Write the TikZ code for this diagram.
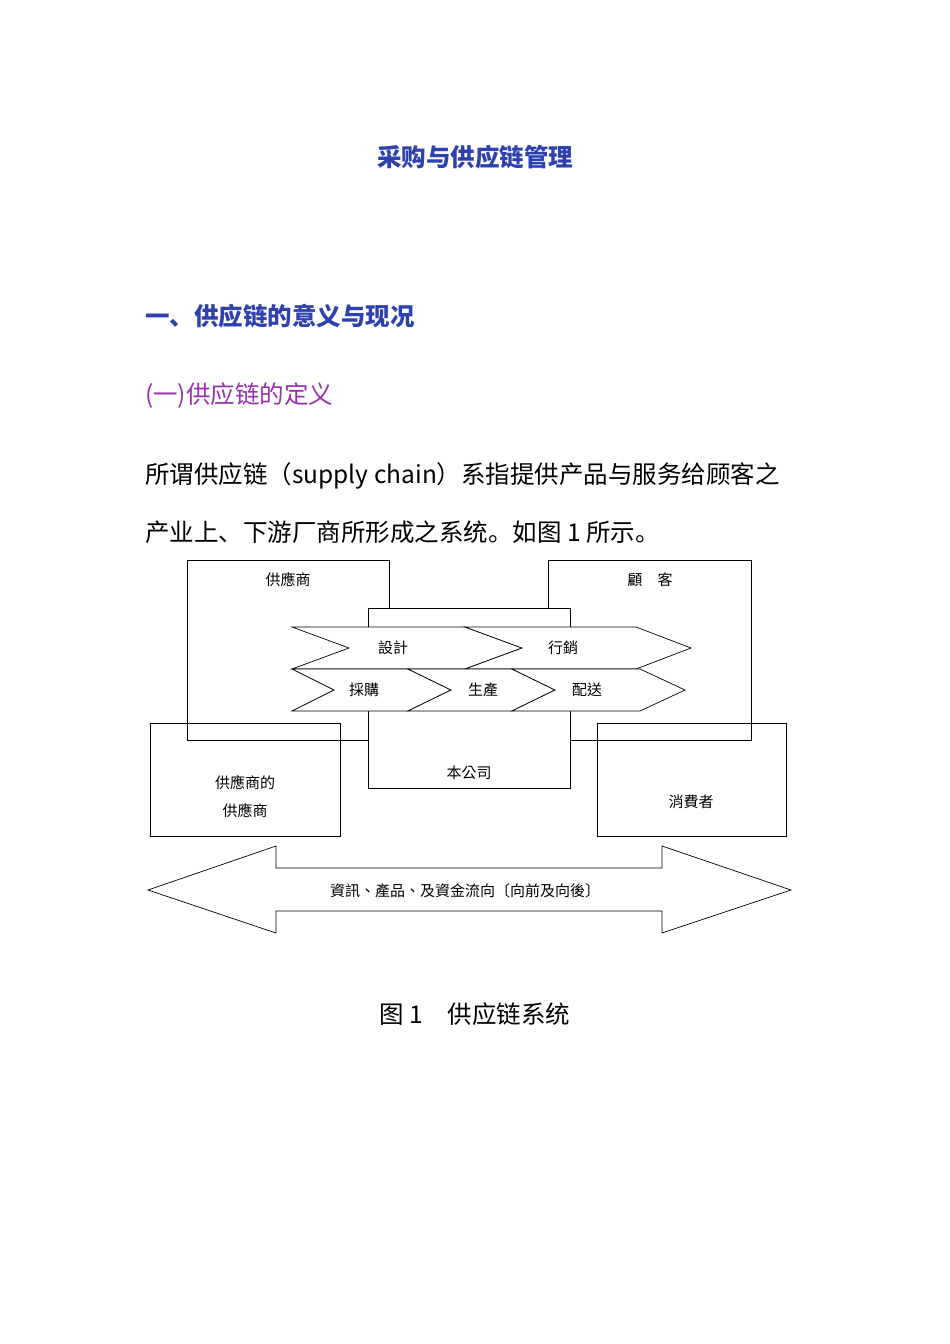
\documentclass[tikz,border=0pt]{standalone}
\usepackage{fontspec}
\setmainfont{Liberation Sans}
\newfontfamily\cjksc{Noto Sans CJK SC}
\newfontfamily\cjktc{Noto Sans CJK TC}
\definecolor{tblue}{RGB}{45,65,175}
\definecolor{tpurp}{RGB}{150,50,175}
\begin{document}
\begin{tikzpicture}[x=1pt,y=-1pt,
  bx/.style={draw,line width=0.8pt},
  lbl/.style={font=\cjktc\fontsize{15}{17}\selectfont,inner sep=0pt},
  big/.style={font=\cjksc\fontsize{24.5}{28}\selectfont},
  chev/.style={draw,fill=white,line width=0.7pt}]
\useasboundingbox (0,0) rectangle (950,1344);
\node[big,font=\cjksc\bfseries\fontsize{24.5}{28}\selectfont,text=tblue] (t) at (475,157) {采购与供应链管理};
\node[big,font=\cjksc\bfseries\fontsize{24.5}{28}\selectfont,text=tblue,anchor=west,inner sep=0pt] (h1) at (145,316) {一、供应链的意义与现况};
\node[big,text=tpurp,anchor=west,inner sep=0pt] (h2) at (145,396) {(一)供应链的定义};
\node[big,anchor=west,inner sep=0pt] (p1) at (145,476) {所谓供应链（supply chain）系指提供产品与服务给顾客之};
\node[big,anchor=west,inner sep=0pt] (p2) at (145,532) {产业上、下游厂商所形成之系统。如图 1 所示。};
% boxes
\draw[bx] (187,560) rectangle (389,740);
\draw[bx] (548,560) rectangle (751,740);
\draw[bx,fill=white] (368,608) rectangle (570,788);
\draw[bx] (150,723) rectangle (340,836);
\draw[bx] (597,723) rectangle (786,836);
% chevrons row 1
\draw[chev] (292,627) -- (465,627) -- (522,648) -- (465,669) -- (292,669) -- (349,648) -- cycle;
\draw[chev] (465,627) -- (636,627) -- (691,648) -- (636,669) -- (465,669) -- (522,648) -- cycle;
% row 2
\draw[chev] (292,669) -- (408,669) -- (451,690) -- (408,711) -- (292,711) -- (334,690) -- cycle;
\draw[chev] (408,669) -- (512,669) -- (555,690) -- (512,711) -- (408,711) -- (451,690) -- cycle;
\draw[chev] (512,669) -- (640,669) -- (685,690) -- (640,711) -- (512,711) -- (555,690) -- cycle;
\node[lbl] (sup) at (288,580) {供應商};
\node[lbl] (cus) at (650,580) {顧\quad 客};
\node[lbl] (d1) at (393,648) {設計};
\node[lbl] (d2) at (563,648) {行銷};
\node[lbl] (r1) at (364,690) {採購};
\node[lbl] (r2) at (483,690) {生產};
\node[lbl] (r3) at (587,690) {配送};
\node[lbl] (co) at (469,773) {本公司};
\node[lbl,align=center] (ss) at (245,797) {供應商的\\[11pt]供應商};
\node[lbl] (cn) at (691,802) {消費者};
% big arrow
\draw[line width=0.7pt] (148,890) -- (276,846) -- (276,868) -- (662,868) -- (662,846) -- (791,890) -- (662,933) -- (662,911) -- (276,911) -- (276,933) -- cycle;
\node[lbl] (fl) at (465,891) {資訊、產品、及資金流向〔向前及向後〕};
\node[big] (cap) at (475,1014) {图 1\quad 供应链系统};
\end{tikzpicture}
\end{document}
